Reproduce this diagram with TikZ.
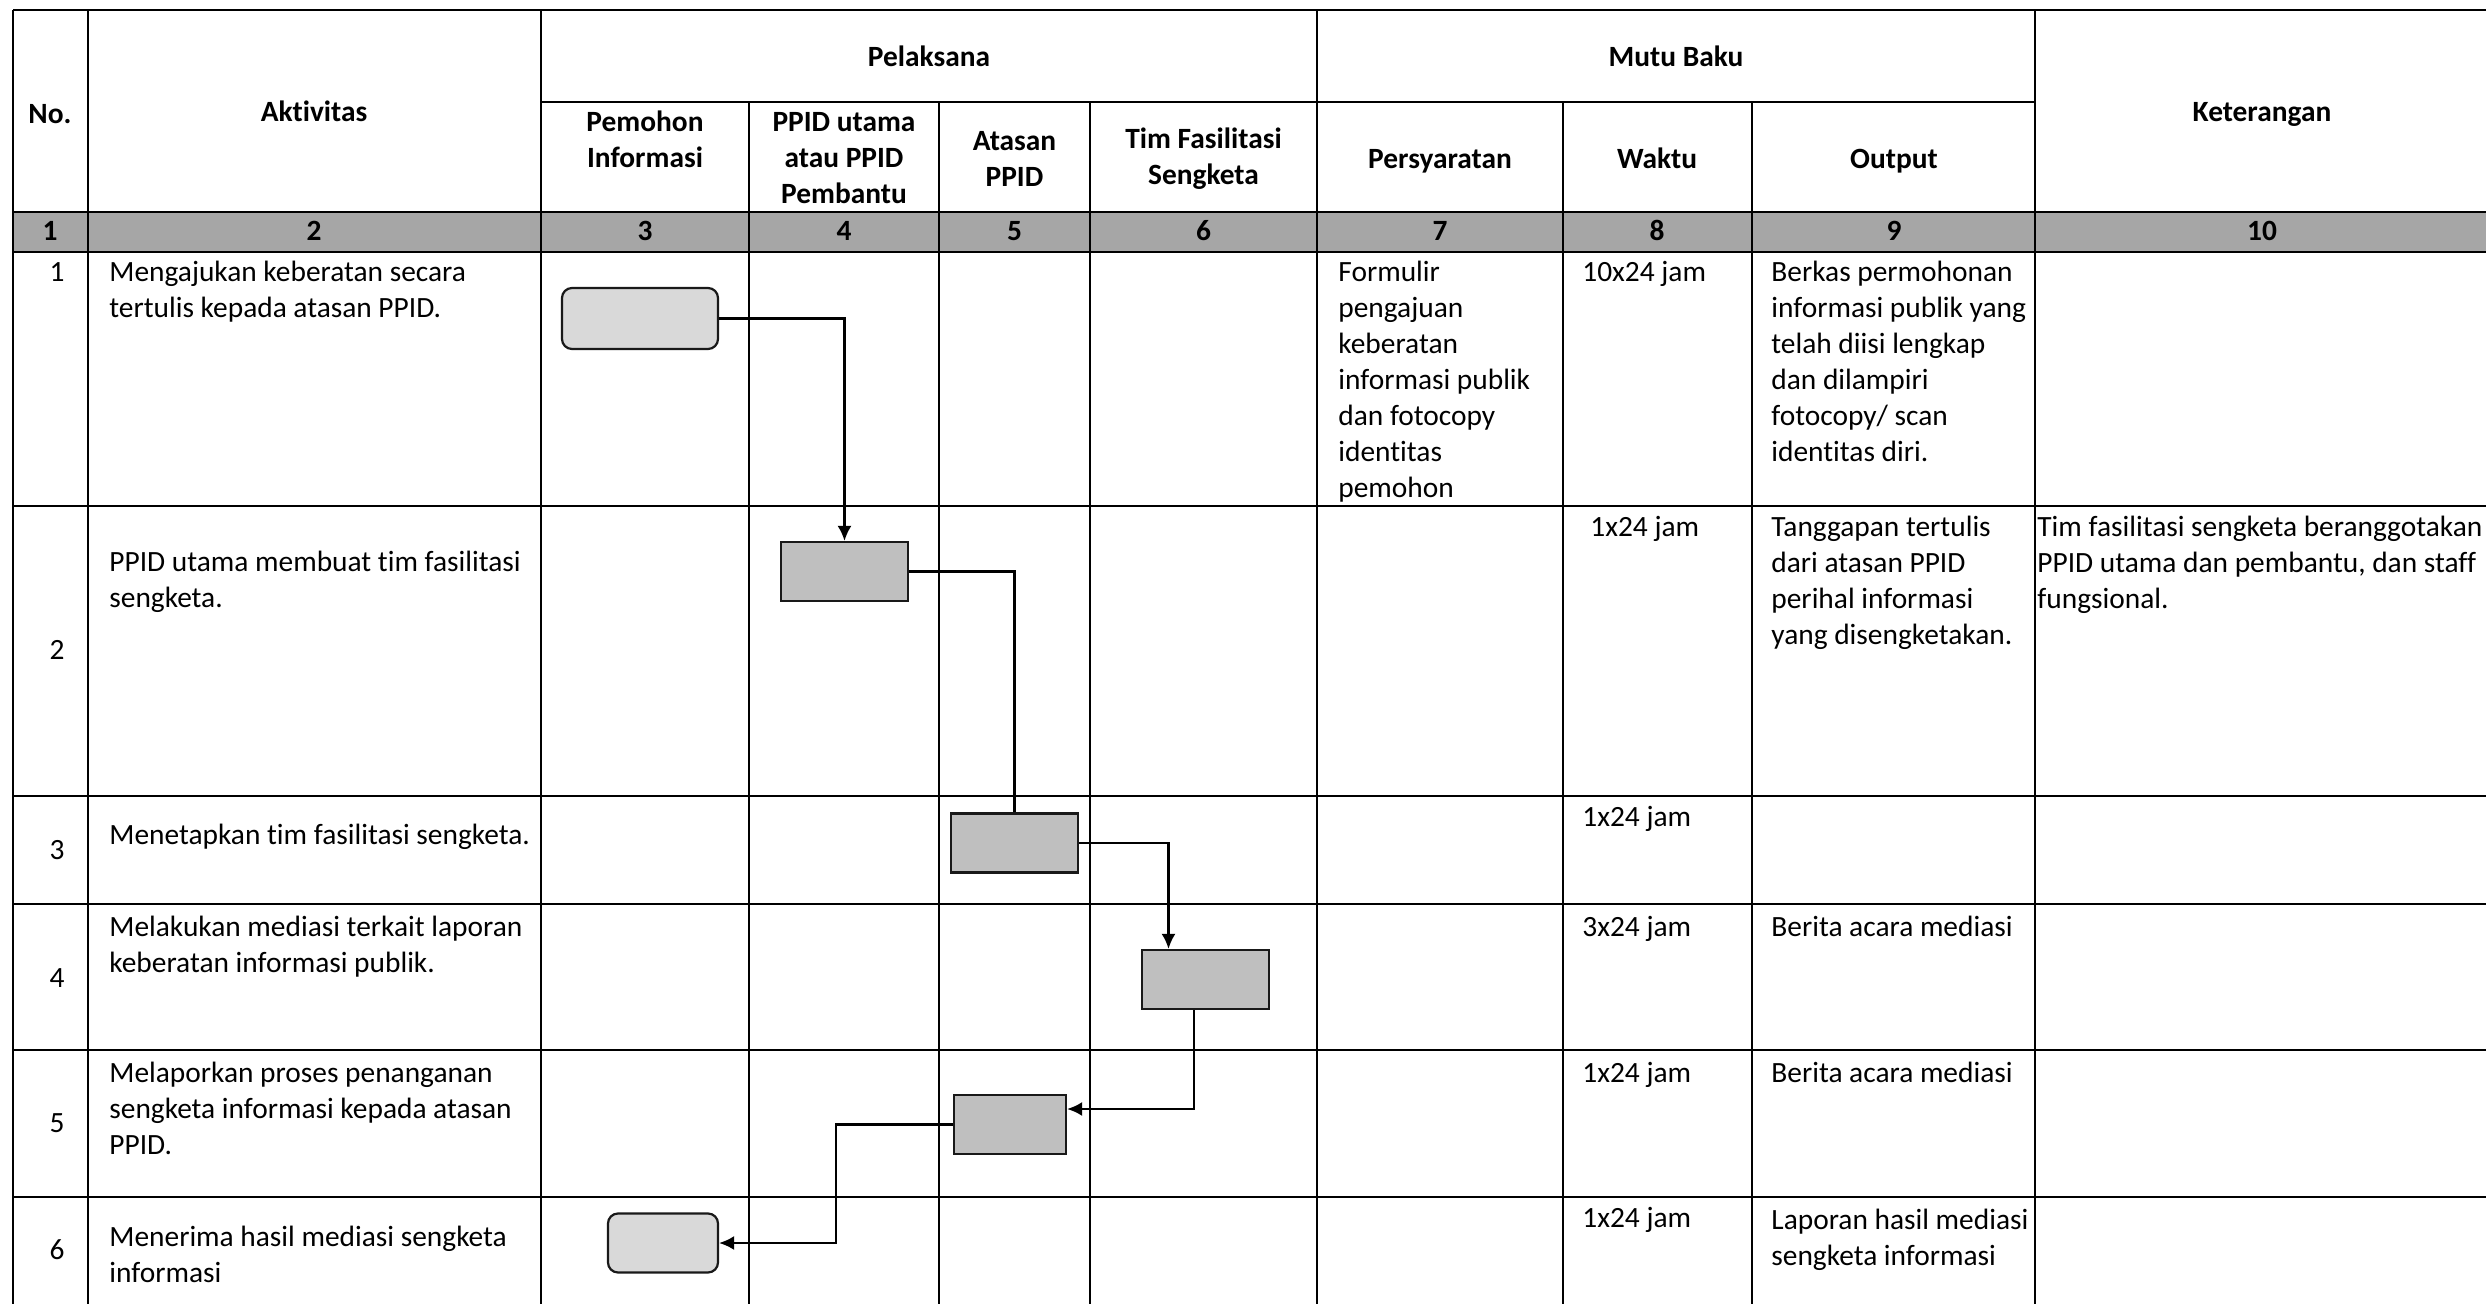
\documentclass[tikz,border=0pt]{standalone}
\usepackage{fontspec}
\setmainfont{Carlito}[Ligatures={NoCommon}]
\usetikzlibrary{arrows.meta}

\begin{document}
\begin{tikzpicture}[x=0.5pt,y=-0.5pt,>={Latex[length=7.5pt,width=7pt]},
                    font=\fontsize{14.7}{18}\selectfont]
  \tikzstyle{tebal}=[line width=1.4pt]
  \tikzstyle{tipis}=[line width=1pt]
  \tikzstyle{judul}=[anchor=base,align=center,inner sep=0pt,
                     font=\fontsize{14.7}{18}\selectfont\bfseries]
  \tikzstyle{isi}=[anchor=base west,align=left,inner sep=0pt]
  \tikzstyle{nomor}=[anchor=base,inner sep=0pt]
  \tikzstyle{proses}=[rectangle,draw=black!90,line width=1.1pt,fill=black!25,
                      minimum width=63.5pt,minimum height=29.5pt]
  \tikzstyle{terminal}=[proses,rounded corners=5pt,fill=black!15]
  \tikzstyle{alur}=[line width=1.1pt]

  \useasboundingbox (0,0) rectangle (2486,1304);

  % tabel
  \fill[black!35] (13,212) rectangle (2490,252);
  \draw[tebal] (13,10) -- (2490,10);
  \draw[tebal] (541,102) -- (2035,102);
  \foreach \y in {212,252,506,796,904,1050,1197}
    \draw[tebal] (13,\y) -- (2490,\y);
  \draw[tebal] (13,10) -- (13,1304);
  \foreach \x in {87.5,541,1317,2035}
    \draw[tipis] (\x,10) -- (\x,1304);
  \foreach \x in {749,939,1090,1562.5,1752}
    \draw[tipis] (\x,102) -- (\x,1304);

  % (base = baris terakhir)
  \node[judul] (hNo)     at (50,124)    {No.};
  \node[judul] (hAkt)    at (314,122)   {Aktivitas};
  \node[judul] (hPel)    at (929,67)    {Pelaksana};
  \node[judul] (hPem)    at (645,168)   {Pemohon\\Informasi};
  \node[judul] (hUtama)  at (844,204)   {PPID utama\\atau PPID\\Pembantu};
  \node[judul] (hAtasan) at (1014.5,187) {Atasan\\PPID};
  \node[judul] (hTim)    at (1203.5,185) {Tim Fasilitasi\\Sengketa};
  \node[judul] (hMutu)   at (1676,67)   {Mutu Baku};
  \node[judul] (hSyarat) at (1440,169)  {Persyaratan};
  \node[judul] (hWaktu)  at (1657,169)  {Waktu};
  \node[judul] (hOut)    at (1894,169)  {Output};
  \node[judul] (hKet)    at (2262,122)  {Keterangan};

  \foreach \x/\n in {50/1,314/2,645/3,844/4,1014.5/5,1203.5/6,1440/7,1657/8,1894/9,2262/10}
    \node[judul] (k\n) at (\x,241) {\n};

  \foreach \y/\n in {282/1,660/2,859/3,987/4,1132/5,1259/6}
    \node[nomor] (n\n) at (57,\y) {\n};

  \node[isi] (akt1) at (109,318)  {Mengajukan keberatan secara\\tertulis kepada atasan PPID.};
  \node[isi] (akt2) at (109,608)  {PPID utama membuat tim fasilitasi\\sengketa.};
  \node[isi] (akt3) at (109,844)  {Menetapkan tim fasilitasi sengketa.};
  \node[isi] (akt4) at (109,972)  {Melakukan mediasi terkait laporan\\keberatan informasi publik.};
  \node[isi] (akt5) at (109,1154) {Melaporkan proses penanganan\\sengketa informasi kepada atasan\\PPID.};
  \node[isi] (akt6) at (109,1282) {Menerima hasil mediasi sengketa\\informasi};

  \node[isi] (syarat1) at (1338,498) {Formulir\\pengajuan\\keberatan\\informasi publik\\dan fotocopy\\identitas\\pemohon};

  \node[isi] (waktu1) at (1582,282)  {10x24 jam};
  \node[isi] (waktu2) at (1590,537)  {1x24 jam};
  \node[isi] (waktu3) at (1582,827)  {1x24 jam};
  \node[isi] (waktu4) at (1582,936)  {3x24 jam};
  \node[isi] (waktu5) at (1582,1082) {1x24 jam};
  \node[isi] (waktu6) at (1582,1227) {1x24 jam};

  \node[isi] (out1) at (1771,462)  {Berkas permohonan\\informasi publik yang\\telah diisi lengkap\\dan dilampiri\\fotocopy/ scan\\identitas diri.};
  \node[isi] (out2) at (1771,645)  {Tanggapan tertulis\\dari atasan PPID\\perihal informasi\\yang disengketakan.};
  \node[isi] (out4) at (1771,936)  {Berita acara mediasi};
  \node[isi] (out5) at (1771,1082) {Berita acara mediasi};
  \node[isi] (out6) at (1771,1265) {Laporan hasil mediasi\\sengketa informasi};

  \node[isi] (ket2) at (2037,609) {Tim fasilitasi sengketa beranggotakan\\PPID utama dan pembantu, dan staff\\fungsional.};

  % alur
  \node[terminal,minimum width=78pt,minimum height=30.5pt] (a1) at (640,318.5) {};
  \node[proses] (a2) at (844.5,571.5) {};
  \node[proses] (a3) at (1014.5,843) {};
  \node[proses] (a4) at (1205.5,979.5) {};
  \node[proses,minimum width=56pt] (a5) at (1010,1124.5) {};
  \node[terminal,minimum width=55pt] (a6) at (663,1243) {};
  \coordinate (b5) at (836,1185);

  \draw[alur,->] (a1.east) -| (a2.north);
  \draw[alur] (a2.east) -| (a3.north);
  \draw[alur,->] (a3.east) -| ([xshift=-18.5pt]a4.north);
  \draw[alur,->] ([xshift=-5.75pt]a4.south) |- ([yshift=7.75pt]a5.east);
  \draw[alur,->] (a5.west) -| (b5) |- (a6.east);

\end{tikzpicture}
\end{document}
